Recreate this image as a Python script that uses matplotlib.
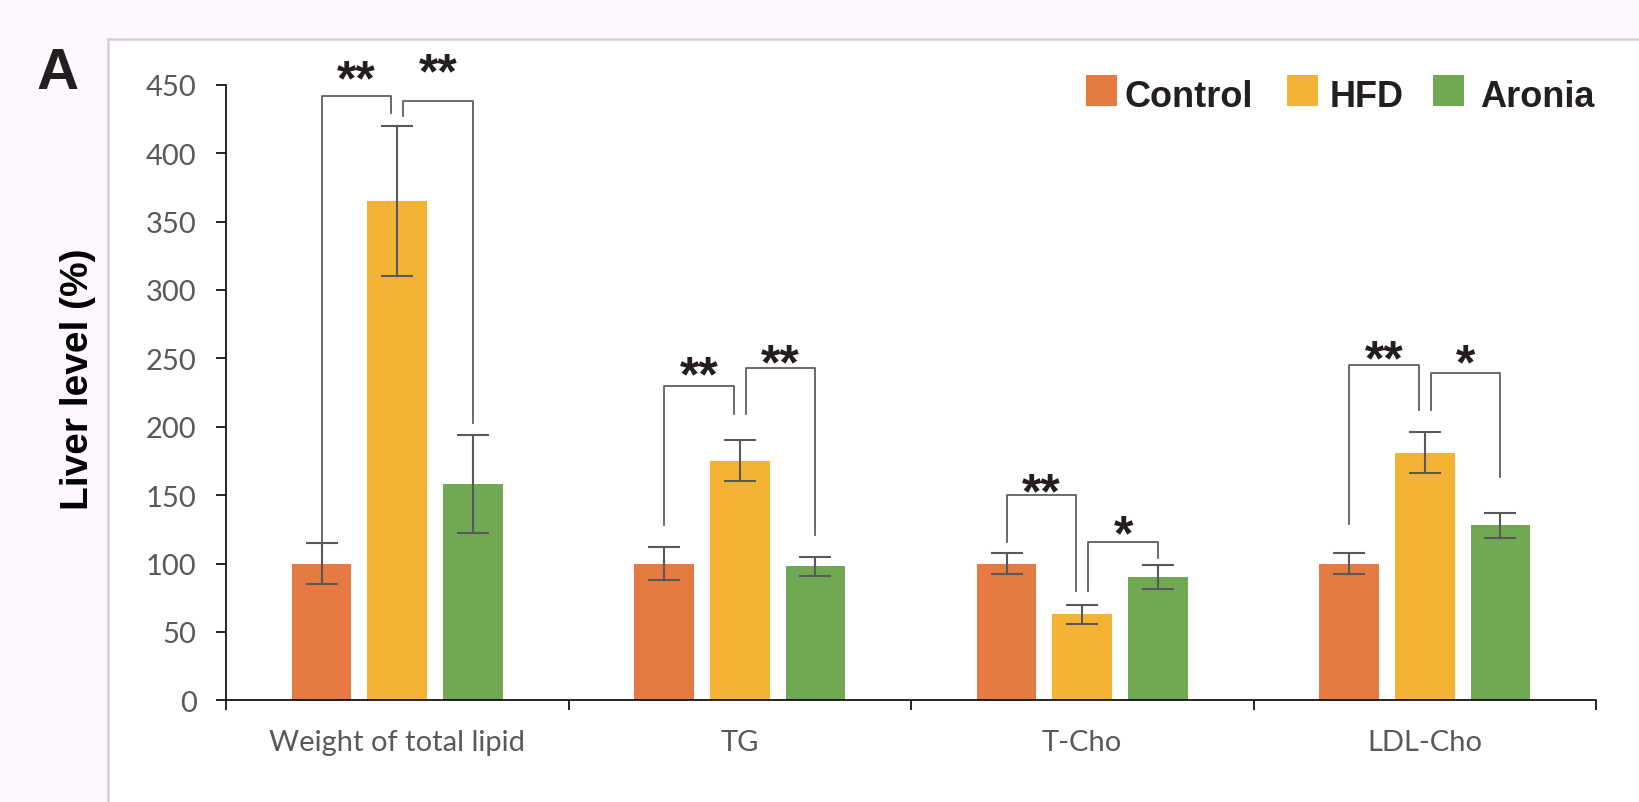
import matplotlib.pyplot as plt
import numpy as np
from matplotlib.patches import Rectangle

# data
categories = ['Weight of total lipid', 'TG', 'T-Cho', 'LDL-Cho']
groups = ['Control', 'HFD', 'Aronia']
colors = ['#E67A43', '#F4B335', '#71A853']

control = [100, 100, 100, 100]
hfd = [365, 175, 63, 181]
aronia = [158, 98, 90, 128]
control_err = [15, 12, 8, 8]
hfd_err = [55, 15, 7, 15]
aronia_err = [36, 7, 9, 9]

# significance brackets: category, bar from, bar to, top, leg ends, stars
br_cat = [0, 0, 1, 1, 2, 2, 3, 3]
br_from = [0, 1, 0, 1, 0, 1, 0, 1]
br_to = [1, 2, 1, 2, 1, 2, 1, 2]
br_top = [442, 438, 230, 243, 150, 115.5, 245, 239]
br_left_end = [116, 427, 128, 209, 115.5, 80, 129, 212]
br_right_end = [429, 203, 209, 121, 80, 104, 212, 163]
br_label = ['**', '**', '**', '**', '**', '*', '**', '*']
br_label_y = [459, 464, 242.7, 251.5, 157, 126.5, 254.4, 251.5]

W, H = 1640, 803
fig = plt.figure(figsize=(W / 100, H / 100), dpi=100, facecolor='#FDF8FD')

# white panel with grey border
fig.add_artist(Rectangle((108 / W, -0.1), 1.0, 1.1 - 40 / H, transform=fig.transFigure,
                         facecolor='white', edgecolor='#D2D2D2', linewidth=1.8, zorder=-1))

ax = fig.add_axes([226 / W, 1 - 701.3 / H, 1370 / W, 615.6 / H])
ax.set_facecolor('none')

x = np.arange(len(categories))
offsets = [-0.221, 0.0, 0.221]
width = 0.174
series = [control, hfd, aronia]
errs = [control_err, hfd_err, aronia_err]

for k in range(3):
    ax.bar(x + offsets[k], series[k], width, color=colors[k], label=groups[k], zorder=2)
    ax.errorbar(x + offsets[k], series[k], yerr=errs[k], fmt='none', ecolor='#595959',
                elinewidth=1.5, capsize=11.5, capthick=1.5, zorder=3)

# brackets and stars
nudge = 0.018
star_size = 36
for i in range(len(br_cat)):
    x1 = br_cat[i] + offsets[br_from[i]] + (nudge if br_from[i] == 1 else 0)
    x2 = br_cat[i] + offsets[br_to[i]] - (nudge if br_to[i] == 1 else 0)
    ax.plot([x1, x1, x2, x2], [br_left_end[i], br_top[i], br_top[i], br_right_end[i]],
            color='#5f5f5f', lw=1.3, clip_on=False, zorder=4)
    ax.annotate(br_label[i], xy=((x1 + x2) / 2, br_label_y[i]), xytext=(0, -0.445 * star_size),
                textcoords='offset points', ha='center', va='baseline', fontsize=star_size,
                fontweight='bold', family='Liberation Sans', color='#231F20',
                annotation_clip=False)

ax.set_xlim(-0.5, len(categories) - 0.5)
ax.set_ylim(0, 450)
ax.set_yticks(np.arange(0, 451, 50))
ax.set_xticks(np.arange(len(categories) + 1) - 0.5)
ax.set_xticklabels([])
ax.set_xticks(x, minor=True)
ax.set_xticklabels(categories, minor=True)

for s in ['top', 'right']:
    ax.spines[s].set_visible(False)
for s in ['left', 'bottom']:
    ax.spines[s].set_linewidth(1.2)
    ax.spines[s].set_color('black')

ax.tick_params(axis='both', which='major', length=7.2, width=1.2, color='black',
               labelsize=21, labelcolor='#595959', pad=14)
ax.tick_params(axis='x', which='minor', length=0, labelsize=21, labelcolor='#595959', pad=21)
for lab in ax.get_yticklabels() + ax.get_xticklabels(minor=True):
    lab.set_family(['Lato', 'DejaVu Sans'])

fig.text(88 / W, 1 - 379.6 / H, 'Liver level (%)', rotation=90, rotation_mode='anchor',
         ha='center', va='baseline', fontsize=28, fontweight='bold', family='Liberation Sans')
fig.text(37 / W, 1 - 89 / H, 'A', ha='left', va='baseline', fontsize=42, fontweight='bold',
         family='Liberation Sans', color='#231F20')

# legend drawn as boxes and labels
leg_box_x = [1086, 1287, 1433]
leg_text_x = [1125, 1330, 1480]
for k in range(3):
    fig.add_artist(Rectangle((leg_box_x[k] / W, 1 - 107 / H), 31 / W, 31 / H,
                             transform=fig.transFigure, facecolor=colors[k], edgecolor='none'))
    fig.text(leg_text_x[k] / W, 1 - 106.7 / H, groups[k], ha='left', va='baseline',
             fontsize=26, fontweight='bold', family='Liberation Sans', color='#231F20')

plt.savefig('out.png', dpi=100, facecolor=fig.get_facecolor())
